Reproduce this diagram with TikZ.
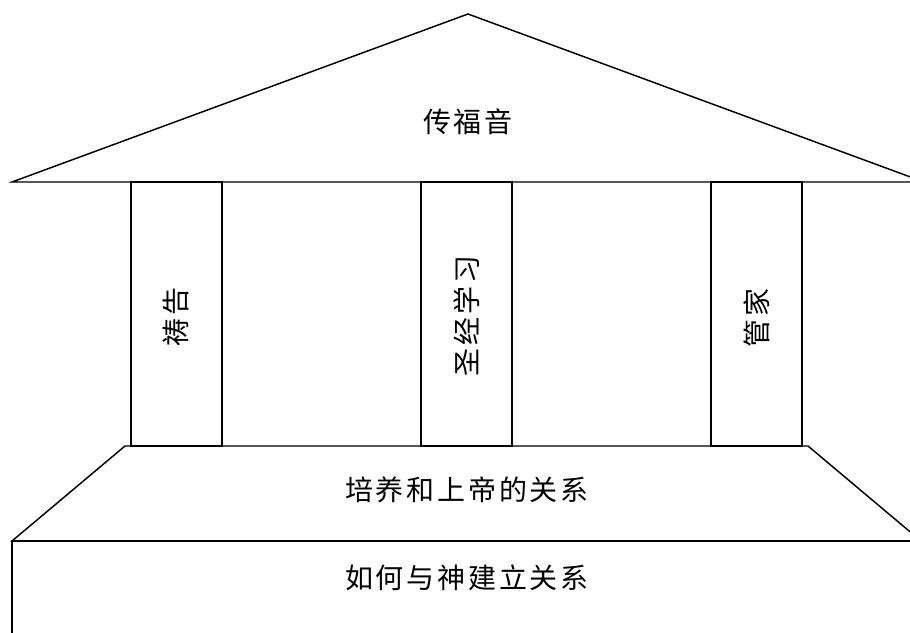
\documentclass[tikz,border=0pt]{standalone}
\usepackage{fontspec}
\setmainfont{Noto Sans CJK SC}[LetterSpace=10]

\begin{document}
\begin{tikzpicture}[x=0.75pt,y=-0.75pt,line width=1.1pt,
  label text/.style={font=\fontsize{21pt}{22pt}\selectfont,inner sep=0pt}]
\useasboundingbox (0,0) rectangle (910,632);
\pgfmathsetmacro{\pillarw}{91}
\pgfmathsetmacro{\pillarh}{264}
% roof
\draw (12,182) -- (468,14) -- (924,182) -- cycle;
% pillars
\foreach \px in {131,421,711}
  \draw (\px,182) rectangle ++(\pillarw,\pillarh);
% steps
\draw (125,446) -- (808,446) -- (921,541) -- (12,541) -- cycle;
\draw (12,640) -- (12,541) -- (921,541) -- (921,640);
% texts
\node[label text] (gospel) at (468,122) {传福音};
\node[label text,rotate=90] (prayer) at (176,317) {祷告};
\node[label text,rotate=90] (bible) at (467,316) {圣经学习};
\node[label text,rotate=90] (steward) at (757,318) {管家};
\node[label text] (grow) at (467,490) {培养和上帝的关系};
\node[label text] (begin) at (467,578) {如何与神建立关系};
\end{tikzpicture}
\end{document}
